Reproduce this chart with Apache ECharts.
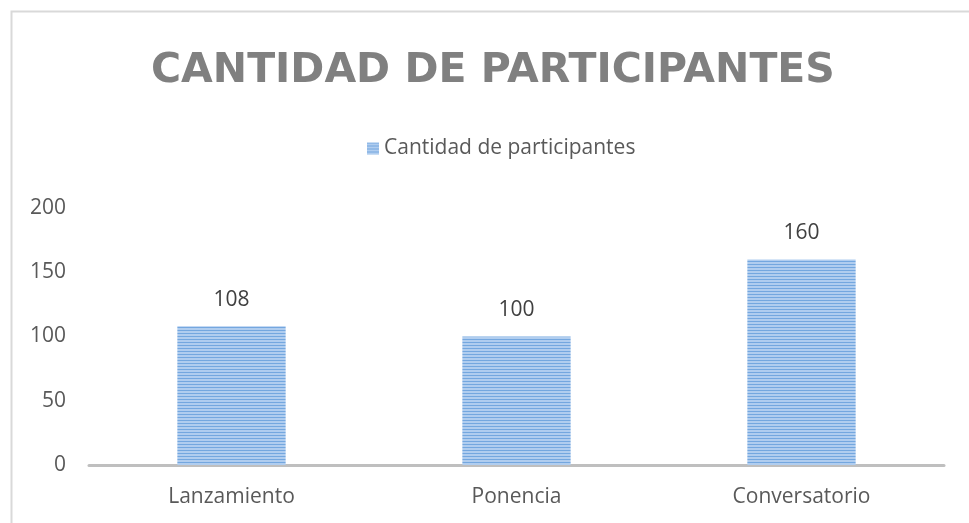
<!DOCTYPE html>
<html>
<head>
<meta charset="utf-8">
<script src="https://cdn.jsdelivr.net/npm/echarts@6/dist/echarts.min.js"></script>
<style>
  html, body { margin: 0; padding: 0; background: #fff; }
  #chart { width: 969px; height: 523px; }
</style>
</head>
<body>
<div id="chart"></div>
<script>
var categories = ['Lanzamiento', 'Ponencia', 'Conversatorio']
var participants = [108, 100, 160]
var seriesName = 'Cantidad de participantes'

// striped fill like the original
function makeStripes() {
  var c = document.createElement('canvas')
  c.width = 4
  c.height = 3
  var ctx = c.getContext('2d')
  ctx.fillStyle = '#b0cdef'
  ctx.fillRect(0, 0, 4, 3)
  ctx.fillStyle = '#74a7df'
  ctx.fillRect(0, 0, 4, 1)
  return c
}

var chart = echarts.init(document.getElementById('chart'))
chart.setOption({
  animation: false,
  textStyle: { fontFamily: 'Open Sans' },
  title: {
    text: 'CANTIDAD DE PARTICIPANTES',
    left: 146,
    top: 46,
    textStyle: { fontSize: 41, fontWeight: 'bold', color: '#808080', fontFamily: 'DejaVu Sans' }
  },
  legend: {
    data: [seriesName],
    top: 133,
    left: 362,
    icon: 'rect',
    itemWidth: 12,
    itemHeight: 12,
    itemGap: 5,
    textStyle: { fontSize: 21, color: '#595959' }
  },
  graphic: [{
    type: 'polyline',
    shape: { points: [[11.5, 523], [11.5, 11.5], [969, 11.5]] },
    style: { stroke: '#d9d9d9', lineWidth: 2, fill: null },
    silent: true
  }],
  grid: { left: 89, right: 25, top: 208, bottom: 58 },
  xAxis: {
    type: 'category',
    data: categories,
    axisLine: { lineStyle: { color: '#bfbfbf', width: 3 } },
    axisTick: { show: false },
    axisLabel: { fontSize: 21, color: '#595959', margin: 22 }
  },
  yAxis: {
    type: 'value',
    min: 0,
    max: 200,
    interval: 50,
    axisLine: { show: false },
    axisTick: { show: false },
    splitLine: { show: false },
    axisLabel: { fontSize: 21, color: '#595959', margin: 23 }
  },
  series: [{
    name: seriesName,
    type: 'bar',
    data: participants,
    barWidth: '38%',
    itemStyle: { color: { image: makeStripes(), repeat: 'repeat' } },
    label: { show: true, position: 'top', distance: 16, fontSize: 21, color: '#404040' }
  }]
})
</script>
</body>
</html>
